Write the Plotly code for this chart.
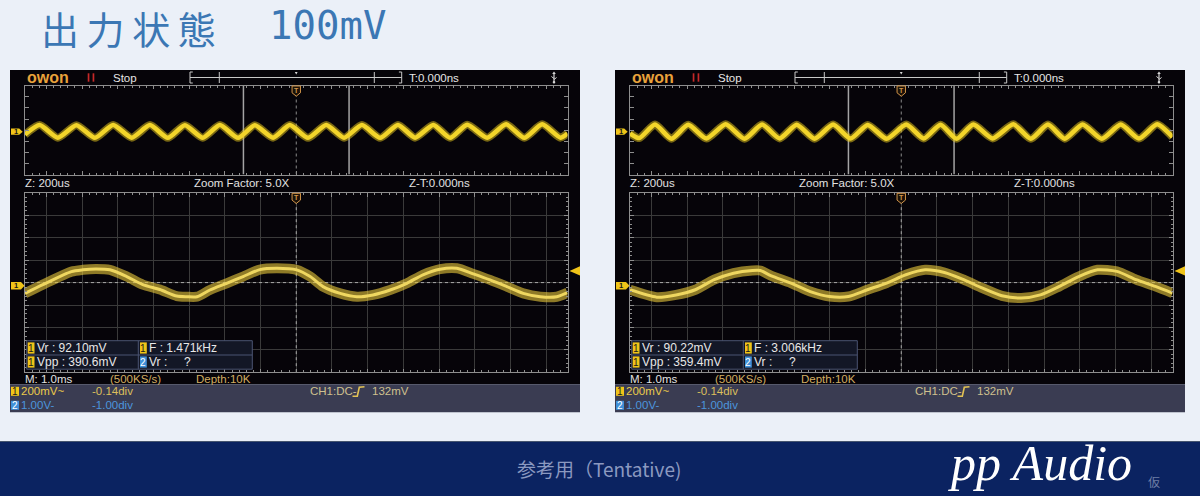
import plotly.graph_objects as go

W, H = 1200, 496

# ---------------- data (CH1 in divisions, 200 mV/div; time in divisions from centre) ----------------
CH1_MV_PER_DIV = 200
CH1_OFFSET_DIV = -0.14
TRIG_MV = 132

# Left capture (F = 1.471 kHz) - overview strip
L_top_x = [-7.60, -7.19, -6.68, -6.16, -5.64, -5.13, -4.61, -4.10, -3.60, -3.12, -2.62, -2.14, -1.63, -1.16,
           -0.65, -0.18, 0.33, 0.84, 1.34, 1.84, 2.35, 2.85, 3.33, 3.84, 4.31, 4.79, 5.35, 5.88, 6.39, 6.89,
           7.40, 7.60]
L_top_y = [-0.40, 0.45, -0.68, 0.44, -0.70, 0.46, -0.68, 0.45, -0.70, 0.44, -0.69, 0.46, -0.70, 0.44,
           -0.68, 0.45, -0.70, 0.46, -0.69, 0.45, -0.70, 0.47, -0.68, 0.46, -0.70, 0.48, -0.69, 0.52, -0.70, 0.52,
           -0.68, -0.30]
# Left capture - main window
L_main_x = [-7.60, -7.10, -6.30, -5.98, -5.62, -5.22, -4.75, -4.30, -3.82, -3.35, -3.06, -2.78, -2.42, -1.95,
            -1.49, -1.02, -0.54, 0.01, 0.39, 0.75, 1.23, 1.70, 2.15, 2.63, 3.10, 3.55, 4.03, 4.50, 4.96, 5.43,
            5.90, 6.36, 6.84, 7.30, 7.60]
L_main_y = [-0.48, -0.09, 0.49, 0.57, 0.61, 0.57, 0.27, -0.09, -0.31, -0.60, -0.63, -0.63, -0.33, -0.03,
            0.27, 0.58, 0.64, 0.57, 0.27, -0.18, -0.48, -0.63, -0.55, -0.33, -0.03, 0.35, 0.60, 0.64, 0.39, 0.12,
            -0.18, -0.48, -0.63, -0.63, -0.45]
L_meas = ["Vr : 92.10mV", "F : 1.471kHz", "Vpp : 390.6mV", "Vr :\u00a0\u00a0\u00a0\u00a0 ?"]

# Right capture (F = 3.006 kHz) - overview strip
R_top_x = [-7.60, -7.34, -6.90, -6.44, -5.97, -5.46, -4.92, -4.39, -3.90, -3.41, -2.93, -2.43, -1.91, -1.42,
           -0.94, -0.41, 0.14, 0.63, 1.10, 1.55, 2.02, 2.56, 3.14, 3.63, 4.11, 4.58, 5.08, 5.62, 6.15, 6.66,
           7.17, 7.60]
R_top_y = [-0.30, -0.72, 0.50, -0.78, 0.48, -0.76, 0.52, -0.78, 0.50, -0.75, 0.48, -0.78, 0.50, -0.76,
           0.47, -0.78, 0.50, -0.76, 0.49, -0.78, 0.50, -0.75, 0.52, -0.78, 0.50, -0.77, 0.51, -0.78, 0.50, -0.76,
           0.52, -0.62]
# Right capture - main window
R_main_x = [-7.60, -6.85, -6.31, -5.77, -5.24, -4.70, -4.17, -3.95, -3.64, -3.09, -2.55, -2.01, -1.48, -0.95,
            -0.41, 0.13, 0.67, 1.21, 1.75, 2.28, 2.82, 3.36, 3.90, 4.43, 4.97, 5.50, 6.04, 6.58, 7.12, 7.60]
R_main_y = [-0.32, -0.65, -0.55, -0.32, 0.13, 0.42, 0.54, 0.54, 0.30, -0.02, -0.40, -0.62, -0.62, -0.32,
            -0.02, 0.35, 0.57, 0.45, 0.13, -0.25, -0.59, -0.69, -0.55, -0.17, 0.27, 0.57, 0.50, 0.13, -0.17, -0.47]
R_meas = ["Vr : 90.22mV", "F : 3.006kHz", "Vpp : 359.4mV", "Vr :\u00a0\u00a0\u00a0\u00a0 ?"]

TITLE_CJK = "出力状態"
TITLE_VAL = "100mV"
FOOTER = "参考用（Tentative)"
BRAND = "pp Audio"
BRAND_SUB = "仮"

# ---------------- helpers (pixel -> paper) ----------------
SANS = "Liberation Sans, Arial, sans-serif"
shapes, annotations = [], []


def X(px):
    return px / W


def Y(py):
    return 1 - py / H


def rect(x0, y0, x1, y1, fill, line=None, lw=0, layer="below"):
    shapes.append(dict(type="rect", xref="paper", yref="paper", x0=X(x0), x1=X(x1), y0=Y(y1), y1=Y(y0),
                       fillcolor=fill, line=dict(color=line or fill, width=lw), layer=layer))


def seg(x0, y0, x1, y1, color="#C8C8C8", w=1, dash="solid", layer="above"):
    shapes.append(dict(type="line", xref="paper", yref="paper", x0=X(x0), x1=X(x1), y0=Y(y0), y1=Y(y1),
                       line=dict(color=color, width=w, dash=dash), layer=layer))


def poly(pts, fill, line=None, lw=0, closed=True, layer="above"):
    d = "M " + " L ".join(f"{X(a):.6f},{Y(b):.6f}" for a, b in pts) + (" Z" if closed else "")
    shapes.append(dict(type="path", xref="paper", yref="paper", path=d, fillcolor=fill,
                       line=dict(color=line or fill, width=lw), layer=layer))


def circ(cx, cy, r, color):
    shapes.append(dict(type="circle", xref="paper", yref="paper", x0=X(cx - r), x1=X(cx + r),
                       y0=Y(cy + r), y1=Y(cy - r), fillcolor=color, line=dict(color=color, width=0),
                       layer="above"))


def text(px, py, s, size, color, anchor="left", family=SANS, style="normal"):
    annotations.append(dict(xref="paper", yref="paper", x=X(px), y=Y(py), text=s, showarrow=False,
                            xanchor=anchor, yanchor="middle", borderpad=0,
                            font=dict(size=size, color=color, family=family, style=style)))


GRID = "#3A3A3A"
BORDER = "#8E8E8E"
YELLOW_TAG = "#F0C419"
BLUE_TAG = "#3F8FD8"

# vertical geometry shared by both screens
S_TOP, S_BLACK_END, S_END = 70, 384.3, 412.3
TOP_P = (85.7, 174.5)
MAIN_P = (193.0, 372.2)


def top_py(div):
    c = (TOP_P[0] + TOP_P[1]) / 2
    return c - div * (TOP_P[1] - TOP_P[0]) / 8


def main_py(div):
    c = (MAIN_P[0] + MAIN_P[1]) / 2
    return c - div * (MAIN_P[1] - MAIN_P[0]) / 8


def axis_x(px0, px1, grid, minor=True):
    d = dict(domain=[X(px0), X(px1)], range=[-7.6, 7.6], showgrid=grid, gridcolor=GRID, gridwidth=1,
             dtick=1, tick0=0, zeroline=False, showline=True, linecolor=BORDER, linewidth=1,
             mirror="ticks", ticks="inside", ticklen=3.5, tickwidth=1, tickcolor=BORDER,
             showticklabels=False, fixedrange=True)
    if minor:
        d["minor"] = dict(dtick=0.2, tick0=0, ticks="inside", ticklen=2, tickcolor=BORDER, showgrid=False)
    return d


def axis_y(py0, py1, grid, anchor, minor=True):
    d = dict(domain=[Y(py1), Y(py0)], range=[-4, 4], showgrid=grid, gridcolor=GRID, gridwidth=1,
             dtick=1, tick0=0, zeroline=False, showline=True, linecolor=BORDER, linewidth=1,
             mirror="ticks", ticks="inside", ticklen=3.5, tickwidth=1, tickcolor=BORDER,
             showticklabels=False, fixedrange=True, anchor=anchor)
    if minor:
        d["minor"] = dict(dtick=0.2, tick0=0, ticks="inside", ticklen=2, tickcolor=BORDER, showgrid=False)
    return d


fig = go.Figure()
layout_axes = {}

screens = [
    dict(ox=10, tx=L_top_x, ty=L_top_y, mx=L_main_x, my=L_main_y, meas=L_meas),
    dict(ox=615, tx=R_top_x, ty=R_top_y, mx=R_main_x, my=R_main_y, meas=R_meas),
]

for i, s in enumerate(screens):
    ox = s["ox"]
    nt, nm = 2 * i + 1, 2 * i + 2
    xt, yt = f"x{nt}", f"y{nt}"
    xm, ym = f"x{nm}", f"y{nm}"
    px0, px1 = ox + 15, ox + 557.5
    kx = "xaxis" if nt == 1 else f"xaxis{nt}"
    ky = "yaxis" if nt == 1 else f"yaxis{nt}"
    layout_axes[kx] = axis_x(px0, px1, False)
    layout_axes[ky] = axis_y(TOP_P[0], TOP_P[1], False, xt, minor=False)
    layout_axes[kx]["anchor"] = yt
    layout_axes[f"xaxis{nm}"] = axis_x(px0, px1, True)
    layout_axes[f"xaxis{nm}"]["anchor"] = ym
    layout_axes[f"yaxis{nm}"] = axis_y(MAIN_P[0], MAIN_P[1], True, xm)

    # screen backgrounds
    rect(ox, S_TOP, ox + 570, S_BLACK_END, "#060409")
    rect(ox, S_BLACK_END, ox + 570, S_END, "#3A3C52")

    # header
    text(ox + 16, 77.3, "<b>owon</b>", 16, "#E9A23B")
    rect(ox + 77.7, 73.3, ox + 79.4, 81.7, "#C62828", layer="above")
    rect(ox + 82.6, 73.3, ox + 84.3, 81.7, "#C62828", layer="above")
    text(ox + 102, 77.8, "Stop", 11.5, "#E6E6E6")
    seg(ox + 180, 77.5, ox + 391.7, 77.5)
    for bx in (180, 209.3, 364.3, 391.7):
        seg(ox + bx, 72, ox + bx, 83)
    seg(ox + 180, 72, ox + 182.8, 72)
    seg(ox + 180, 83, ox + 182.8, 83)
    seg(ox + 388.9, 72, ox + 391.7, 72)
    seg(ox + 388.9, 83, ox + 391.7, 83)
    poly([(ox + 284.8, 72), (ox + 287.6, 72), (ox + 286.2, 74.5)], "#D8D8D8")
    text(ox + 398, 77.8, "T:0.000ns", 11.5, "#E6E6E6")
    # usb icon
    ux = ox + 544
    seg(ux, 73.5, ux, 82, "#D6D6D6", 1.2)
    poly([(ux - 1.8, 74), (ux + 1.8, 74), (ux, 71.5)], "#D6D6D6")
    seg(ux, 78.5, ux - 2.6, 76.5, "#D6D6D6", 1)
    seg(ux, 79.5, ux + 2.6, 77.5, "#D6D6D6", 1)
    circ(ux, 82.3, 1.3, "#D6D6D6")

    # overview strip extras
    for zx in (-1.48, 1.48):
        shapes.append(dict(type="line", xref=xt, yref=yt, x0=zx, x1=zx, y0=-4, y1=4,
                           line=dict(color="#A4A4A4", width=1.5), layer="between"))
    shapes.append(dict(type="line", xref=xt, yref=yt, x0=0, x1=0, y0=-4, y1=4,
                       line=dict(color="#8A8A8A", width=1, dash="dot"), layer="between"))
    # main window centre dotted cross
    shapes.append(dict(type="line", xref=xm, yref=ym, x0=0, x1=0, y0=-4, y1=4,
                       line=dict(color="#A8A8A8", width=1, dash="dot"), layer="between"))
    shapes.append(dict(type="line", xref=xm, yref=ym, x0=-7.6, x1=7.6, y0=0, y1=0,
                       line=dict(color="#A8A8A8", width=1, dash="dot"), layer="between"))

    # traces
    fig.add_trace(go.Scatter(x=s["tx"], y=s["ty"], xaxis=xt, yaxis=yt, mode="lines", hoverinfo="skip",
                             showlegend=False,
                             line=dict(color="rgba(236,204,30,0.5)", width=8, shape="spline",
                                       smoothing=0.6)))
    fig.add_trace(go.Scatter(x=s["tx"], y=s["ty"], xaxis=xt, yaxis=yt, mode="lines", hoverinfo="skip",
                             showlegend=False,
                             line=dict(color="#F3D52A", width=4.5, shape="spline", smoothing=0.6)))
    fig.add_trace(go.Scatter(x=s["mx"], y=s["my"], xaxis=xm, yaxis=ym, mode="lines", hoverinfo="skip",
                             showlegend=False,
                             line=dict(color="rgba(226,196,58,0.62)", width=10, shape="spline",
                                       smoothing=0.7)))
    fig.add_trace(go.Scatter(x=s["mx"], y=s["my"], xaxis=xm, yaxis=ym, mode="lines", hoverinfo="skip",
                             showlegend=False,
                             line=dict(color="#EFD760", width=3, shape="spline", smoothing=0.7)))

    # channel / trigger markers
    cx = (px0 + px1) / 2
    for (yc, hh, xe) in ((top_py(CH1_OFFSET_DIV), 3.2, ox + 12.7), (main_py(CH1_OFFSET_DIV), 3.8, ox + 14.5)):
        poly([(ox + 1, yc - hh), (xe - 3.5, yc - hh), (xe, yc), (xe - 3.5, yc + hh), (ox + 1, yc + hh)],
             YELLOW_TAG)
        text(ox + 5.5, yc, "<b>1</b>", 7.5, "#1A1A1A", anchor="center")
    trig_div = TRIG_MV / CH1_MV_PER_DIV + CH1_OFFSET_DIV
    ty_ = main_py(trig_div)
    poly([(px1 + 2, ty_), (px1 + 12.5, ty_ - 4.6), (px1 + 12.5, ty_ + 4.6)], YELLOW_TAG)
    for (ytop) in (TOP_P[0] + 0.3, MAIN_P[0] + 0.3):
        poly([(cx - 4.2, ytop), (cx + 4.2, ytop), (cx + 4.2, ytop + 6.8), (cx, ytop + 10.2),
              (cx - 4.2, ytop + 6.8)], "#1A1108", line="#D4964A", lw=1)
        text(cx, ytop + 4.6, "<b>T</b>", 7, "#D4964A", anchor="center")

    # text rows
    text(ox + 14, 183.3, "Z: 200us", 11.5, "#E2E2E2")
    text(ox + 182.5, 183.3, "Zoom Factor: 5.0X", 11.5, "#E2E2E2")
    text(ox + 398, 183.3, "Z-T:0.000ns", 11.5, "#E2E2E2")
    text(ox + 14, 379.3, "M: 1.0ms", 11.5, "#E2E2E2")
    text(ox + 99, 379.3, "(500KS/s)", 11.5, "#D3AE62")
    text(ox + 185, 379.3, "Depth:10K", 11.5, "#D3AE62")

    # measurement box
    rect(ox + 16.7, 340.7, ox + 242.3, 369.2, "#131726", line="#4B5472", lw=1, layer="above")
    seg(ox + 16.7, 355, ox + 242.3, 355, "#4B5472", 1)
    seg(ox + 128.3, 340.7, ox + 128.3, 369.2, "#4B5472", 1)
    meas = s["meas"]
    cells = [(ox + 17.7, 348, "1", meas[0]), (ox + 130, 348, "1", meas[1]),
             (ox + 17.7, 362, "1", meas[2]), (ox + 130, 362, "2", meas[3])]
    for (bx, by, lab, txt) in cells:
        fill = YELLOW_TAG if lab == "1" else BLUE_TAG
        rect(bx, by - 5.6, bx + 6.8, by + 5.6, fill, layer="above")
        text(bx + 3.4, by, lab, 10, "#1A1A1A" if lab == "1" else "#FFFFFF", anchor="center")
        text(bx + 8.3, by, txt, 12, "#E8E8E8")

    # status bar
    rect(ox + 1, 386.8, ox + 9, 395.8, YELLOW_TAG, layer="above")
    text(ox + 5, 391.3, "1", 10, "#1A1A1A", anchor="center")
    text(ox + 10, 391.3, "200mV~", 11.5, "#EBCB4A")
    text(ox + 81, 391.3, "-0.14div", 11.5, "#DCBF5C")
    rect(ox + 1, 400.8, ox + 9, 409.8, BLUE_TAG, layer="above")
    text(ox + 5, 405.3, "2", 10, "#FFFFFF", anchor="center")
    text(ox + 10, 405.3, "1.00V-", 11.5, "#4C95DC")
    text(ox + 81, 405.3, "-1.00div", 11.5, "#4C95DC")
    text(ox + 299, 391.3, "CH1:DC-", 11.5, "#CFC08E")
    poly([(ox + 342.5, 396.2), (ox + 347.3, 396.2), (ox + 349.3, 387.3), (ox + 354.5, 386.8)], None,
         line="#E2C254", lw=1.6, closed=False)
    text(ox + 360.5, 391.3, "132mV", 11.5, "#CFC08E")

# ---------------- slide decorations ----------------
rect(0, 441.5, 1200, 496, "#0B2361")
seg(0, 441.5, 1200, 441.5, "#46556F", 1, layer="below")
text(40, 27.8, "\u2009".join(TITLE_CJK), 38, "#3B77B4", family="Noto Sans CJK JP")
text(268, 26, TITLE_VAL, 39, "#3B77B4", family="DejaVu Sans Mono")
text(599, 468, FOOTER, 19, "#8B99C0", anchor="center", family="Noto Sans CJK JP")
text(1040, 463, BRAND, 50, "#FFFFFF", anchor="center", family="Liberation Serif", style="italic")
text(1147, 481, BRAND_SUB, 12, "#6F7FA6", anchor="left", family="Noto Sans CJK JP")

fig.update_layout(width=W, height=H, margin=dict(l=0, r=0, t=0, b=0), paper_bgcolor="#EBF0F8",
                  plot_bgcolor="rgba(0,0,0,0)", showlegend=False, shapes=shapes, annotations=annotations,
                  **layout_axes)
fig.write_html("out.html", config={"displayModeBar": False, "staticPlot": True},
               post_script="document.body.style.margin='0';document.body.style.overflow='hidden';")
